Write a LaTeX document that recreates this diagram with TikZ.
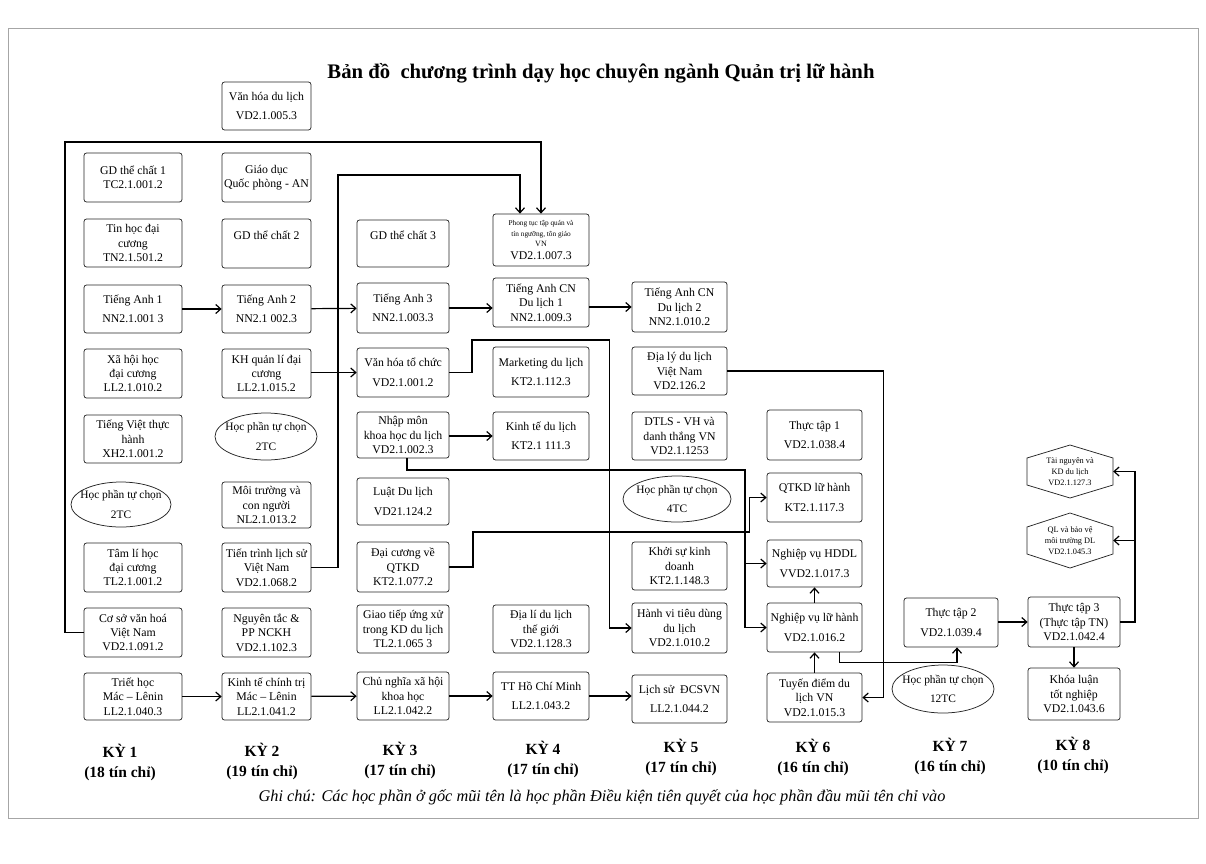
\documentclass[tikz,border=0pt]{standalone}
\usepackage{fontspec}
\setmainfont{Liberation Serif}
\usetikzlibrary{arrows.meta,shapes.geometric}
\newcommand{\mybox}[7][box]{%
  \pgfmathsetmacro{\myx}{(#3+#4)/2}\pgfmathsetmacro{\myy}{(#5+#6)/2}%
  \pgfmathsetmacro{\myw}{#4-#3}\pgfmathsetmacro{\myh}{#6-#5}%
  \node[#1, minimum width=\myw pt, minimum height=\myh pt] (#2) at (\myx,\myy) {#7};}
\newcommand{\bl}{\\[5pt]}
\tikzset{
  box/.style={draw=black!85, line width=0.75pt, rounded corners=2.5pt, align=center, inner sep=0.5pt,
    font=\fontsize{11.8}{14.4}\selectfont},
  oval/.style={draw=black!85, line width=0.75pt, ellipse, align=center, inner xsep=-10pt, inner ysep=-4pt,
    font=\fontsize{11.4}{14.2}\selectfont},
  hexa/.style={align=center, inner sep=0pt, font=\fontsize{8.3}{10.8}\selectfont},
  arr/.style={-{Straight Barb[length=5pt,width=9pt]}, line width=1.2pt},
  kylbl/.style={align=center, font=\fontsize{15.5}{20}\selectfont\bfseries}
}
\begin{document}
\begin{tikzpicture}[x=1pt,y=-1pt]
\useasboundingbox (0,0) rectangle (1206,863);
\draw[black!35, line width=0.6pt] (8,28) rectangle (1198,818);
\node[font=\fontsize{20.7}{24}\selectfont\bfseries] (title) at (601,73) {Bản đồ\ \ chương trình dạy học chuyên ngành Quản trị lữ hành};

% column 1
\mybox{gd1}{84}{182}{153}{202}{GD thể chất 1\\TC2.1.001.2}
\mybox{tin}{84}{182}{219}{267}{Tin học đại\\cương\\TN2.1.501.2}
\mybox{ta1}{84}{182}{285}{333}{Tiếng Anh 1\bl NN2.1.001 3}
\mybox{xhh}{84}{182}{349}{398}{Xã hội học\\đại cương\\LL2.1.010.2}
\mybox{tv}{84}{182}{415}{463}{Tiếng Việt thực\\hành\\XH2.1.001.2}
\mybox[oval]{e1}{71}{171}{482}{527}{Học phần tự chọn\bl 2TC}
\mybox{tl}{84}{182}{543}{592}{Tâm lí học\\đại cương\\TL2.1.001.2}
\mybox{csvh}{84}{182}{608}{657}{Cơ sở văn hoá\\Việt Nam\\VD2.1.091.2}
\mybox{th}{84}{182}{673}{720}{Triết học\\Mác – Lênin\\LL2.1.040.3}

% column 2
\mybox{vhdl}{222}{311}{82}{130}{Văn hóa du lịch\bl VD2.1.005.3}
\mybox{qp}{222}{311}{153}{202}{Giáo dục\\Quốc phòng - AN}
\mybox{gd2}{222}{311}{219}{268}{GD thể chất 2\\[2pt]~}
\mybox{ta2}{222}{311}{285}{333}{Tiếng Anh 2\bl NN2.1 002.3}
\mybox{khql}{222}{311}{349}{398}{KH quản lí đại\\cương\\LL2.1.015.2}
\mybox[oval]{e2}{215}{317}{413}{460}{Học phần tự chọn\bl 2TC}
\mybox{mt}{222}{311}{482}{528}{Môi trường và\\con người\\NL2.1.013.2}
\mybox{tt}{222}{311}{543}{592}{Tiến trình lịch sử\\Việt Nam\\VD2.1.068.2}
\mybox{ng}{222}{311}{608}{657}{Nguyên tắc \&\\PP NCKH\\VD2.1.102.3}
\mybox{kt}{222}{311}{673}{720}{Kinh tế chính trị\\Mác – Lênin\\LL2.1.041.2}

% column 3
\mybox{gd3}{357}{449}{220}{267}{GD thể chất 3\\[2pt]~}
\mybox{ta3}{357}{449}{283}{333}{Tiếng Anh 3\bl NN2.1.003.3}
\mybox{vhtc}{357}{449}{348}{397}{Văn hóa tổ chức\bl VD2.1.001.2}
\mybox{nm}{357}{449}{412}{458}{Nhập môn\\khoa học du lịch\\VD2.1.002.3}
\mybox{luat}{357}{449}{478}{525}{Luật Du lịch\bl VD21.124.2}
\mybox{dc}{357}{449}{542}{592}{Đại cương về\\QTKD\\KT2.1.077.2}
\mybox{gt}{357}{449}{605}{653}{Giao tiếp ứng xử\\trong KD du lịch\\TL2.1.065 3}
\mybox{cn}{357}{449}{672}{720}{Chủ nghĩa xã hội\\khoa học\\LL2.1.042.2}

% column 4
\mybox{pt}{493}{589}{214}{266}{{\fontsize{7.3}{8}\selectfont Phong tục tập quán và}\\[-4pt]{\fontsize{7.3}{8}\selectfont tín ngưỡng, tôn giáo}\\[-4pt]{\fontsize{8}{8}\selectfont VN}\\[-2pt]VD2.1.007.3}
\mybox{tacn1}{493}{589}{278}{327}{Tiếng Anh CN\\Du lịch 1\\NN2.1.009.3}
\mybox{mk}{493}{589}{347}{397}{Marketing du lịch\bl KT2.1.112.3}
\mybox{ktdl}{493}{589}{412}{460}{Kinh tế du lịch\bl KT2.1 111.3}
\mybox{dldtg}{493}{589}{605}{653}{Địa lí du lịch\\thế giới\\VD2.1.128.3}
\mybox{hcm}{493}{589}{672}{720}{TT Hồ Chí Minh\bl LL2.1.043.2}

% column 5
\mybox{tacn2}{632}{727}{282}{332}{Tiếng Anh CN\\Du lịch 2\\NN2.1.010.2}
\mybox{dlvn}{632}{727}{347}{395}{Địa lý du lịch\\Việt Nam\\VD2.126.2}
\mybox{dtls}{632}{727}{412}{460}{DTLS - VH và\\danh thắng VN\\VD2.1.1253}
\mybox[oval]{e4}{623}{731}{476}{522}{Học phần tự chọn\bl 4TC}
\mybox{ks}{632}{727}{542}{590}{Khởi sự kinh\\doanh\\KT2.1.148.3}
\mybox{hv}{632}{727}{603}{653}{Hành vi tiêu dùng\\du lịch\\VD2.1.010.2}
\mybox{ls}{632}{727}{675}{723}{Lịch sử\ \ ĐCSVN\bl LL2.1.044.2}

% column 6
\mybox{tt1}{767}{862}{410}{460}{Thực tập 1\bl VD2.1.038.4}
\mybox{qtkd}{767}{862}{473}{522}{QTKD lữ hành\bl KT2.1.117.3}
\mybox{hddl}{767}{862}{540}{587}{Nghiệp vụ HDDL\bl VVD2.1.017.3}
\mybox{nvlh}{767}{862}{603}{652}{Nghiệp vụ lữ hành\bl VD2.1.016.2}
\mybox{td}{767}{862}{673}{722}{Tuyến điểm du\\lịch VN\\VD2.1.015.3}

% column 7
\mybox{tt2}{904}{998}{598}{647}{Thực tập 2\bl VD2.1.039.4}
\mybox[oval]{e12}{892}{994}{665}{713}{Học phần tự chọn\bl 12TC}

% column 8
\mybox[hexa]{tn}{1027}{1113}{445}{498}{Tài nguyên và\\KD du lịch\\VD2.1.127.3}
\draw[black!85, line width=0.75pt] (1027,458) -- (1070,445) -- (1113,458) -- (1113,485) -- (1070,498) -- (1027,485) -- cycle;
\mybox[hexa]{ql}{1027}{1113}{513}{568}{QL và bảo vệ\\môi trường DL\\VD2.1.045.3}
\draw[black!85, line width=0.75pt] (1027,527) -- (1070,513) -- (1113,527) -- (1113,554) -- (1070,568) -- (1027,554) -- cycle;
\mybox{tt3}{1028}{1120}{597}{647}{Thực tập 3\\(Thực tập TN)\\VD2.1.042.4}
\mybox{kl}{1028}{1120}{668}{720}{Khóa luận\\tốt nghiệp\\VD2.1.043.6}

% semester labels
\node[kylbl] (k1) at (120,762) {KỲ 1\\(18 tín chỉ)};
\node[kylbl] (k2) at (262,761) {KỲ 2\\(19 tín chỉ)};
\node[kylbl] (k3) at (400,760) {KỲ 3\\(17 tín chỉ)};
\node[kylbl] (k4) at (543,759) {KỲ 4\\(17 tín chỉ)};
\node[kylbl] (k5) at (681,757) {KỲ 5\\(17 tín chỉ)};
\node[kylbl] (k6) at (813,757) {KỲ 6\\(16 tín chỉ)};
\node[kylbl] (k7) at (950,756) {KỲ 7\\(16 tín chỉ)};
\node[kylbl] (k8) at (1073,755) {KỲ 8\\(10 tín chỉ)};
\node[font=\fontsize{16.3}{18}\selectfont\itshape] (note) at (602,797) {Ghi chú: Các học phần ở gốc mũi tên là học phần Điều kiện tiên quyết của học phần đầu mũi tên chỉ vào};

% connectors
\draw[arr] (ta1) -- (ta2);
\draw[arr] (ta2) -- (ta3);
\draw[arr] (ta3.east) -- (ta3.east -| tacn1.west);
\draw[arr] (tacn1.east |- tacn2.west) -- (tacn2.west);
\draw[arr] (khql.east |- vhtc.west) -- (vhtc.west);
\draw[arr] (th) -- (kt);
\draw[arr] (kt) -- (cn);
\draw[arr] (cn) -- (hcm);
\draw[arr] (hcm.east) -- (hcm.east -| ls.west);
\draw[arr] (csvh.west) -| (65,142) -| (pt.north);
\draw[arr] (tt.east) -| (338,175) -| ([xshift=-21pt]pt.north);
\draw[arr] (vhtc.east) -| (472,340) -| ([xshift=-22pt]hv.west) -- (hv.west);
\draw[arr] (nm.east |- ktdl.west) -- (ktdl.west);
\coordinate (jx) at (745,470);
\draw[arr] ([xshift=4pt]nm.south) |- (jx) |- (nvlh.west);
\draw[arr] (hddl.west -| jx) -- (hddl.west);
\draw[arr] (dc.east) -| (473,532) -| ([xshift=-17pt]qtkd.west) -- (qtkd.west);
\draw[arr] (dlvn.east) -| ([xshift=21pt]td.east) -- (td.east);
\draw[arr] (td) -- (nvlh);
\draw[arr] (nvlh) -- (hddl);
\draw[arr] ([xshift=25pt]nvlh.south) |- ([xshift=6pt,yshift=-15pt]tt2.south) -- ([xshift=6pt]tt2.south);
\draw[arr] (tt2.east |- tt3.west) -- (tt3.west);
\coordinate (rr) at (1135,600);
\draw[arr] (tt3.east) -| (tn.east -| rr) -- (tn.east);
\draw[arr] (ql.east -| rr) -- (ql.east);
\draw[arr] (tt3) -- (kl);
\end{tikzpicture}
\end{document}
